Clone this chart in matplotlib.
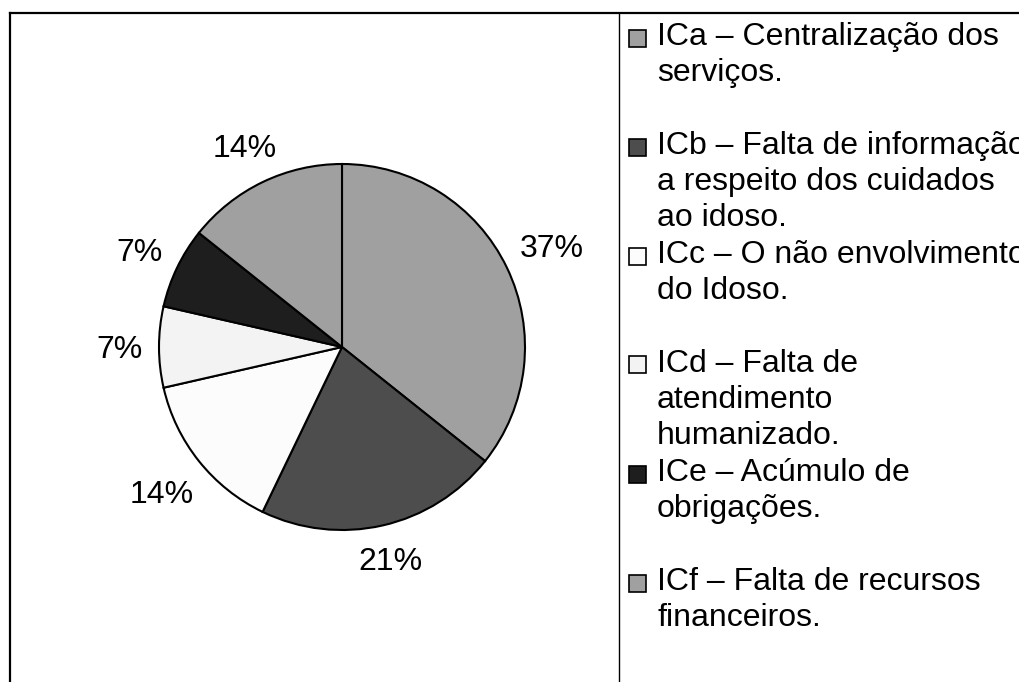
import matplotlib
matplotlib.use("Agg")
import matplotlib.pyplot as plt
from matplotlib.lines import Line2D
from matplotlib.patches import Rectangle
import numpy as np

plt.rcParams['font.family'] = ['Liberation Sans', 'DejaVu Sans']

# data (counts out of 14, labels as printed)
categories = ['ICa', 'ICb', 'ICc', 'ICd', 'ICe', 'ICf']
counts = [5, 3, 2, 1, 1, 2]
pct_labels = ['37%', '21%', '14%', '7%', '7%', '14%']
legend_lines = [
    ['ICa – Centralização dos', 'serviços.'],
    ['ICb – Falta de informação', 'a respeito dos cuidados', 'ao idoso.'],
    ['ICc – O não envolvimento', 'do Idoso.'],
    ['ICd – Falta de', 'atendimento', 'humanizado.'],
    ['ICe – Acúmulo de', 'obrigações.'],
    ['ICf – Falta de recursos', 'financeiros.'],
]
colors = ['#a0a0a0', '#4d4d4d', '#fcfcfc', '#f3f3f3', '#1e1e1e', '#a0a0a0']

W, H = 1019, 682
FS = 23
fig = plt.figure(figsize=(W / 100, H / 100), dpi=100)

# outer frame (cut off at right and bottom) and the legend separator
fig.add_artist(Line2D([10 / W, 1.01], [1 - 13 / H] * 2, color='black', lw=1.6,
                      transform=fig.transFigure))
fig.add_artist(Line2D([10 / W] * 2, [1 - 13 / H, -0.01], color='black', lw=1.6,
                      transform=fig.transFigure))
fig.add_artist(Line2D([619 / W] * 2, [1 - 13 / H, -0.01], color='black', lw=1.0,
                      transform=fig.transFigure))

# pie
cx, cy, R = 342, 347, 183
ax = fig.add_axes([(cx - 1.5 * R) / W, (H - cy - 1.5 * R) / H, 3 * R / W, 3 * R / H])
wedges, _ = ax.pie(counts, colors=colors, startangle=90, counterclock=False,
                   wedgeprops=dict(edgecolor='black', linewidth=1.5))
ax.set_xlim(-1.5, 1.5)
ax.set_ylim(-1.5, 1.5)
ax.axis('off')

# percentage labels, placed just outside the rim like the spreadsheet does
renderer = fig.canvas.get_renderer()
cap_half = 0.716 * FS * 100 / 72 / 2
gap = 16
for w, lab in zip(wedges, pct_labels):
    th = np.deg2rad((w.theta1 + w.theta2) / 2)
    ux, uy = np.cos(th), np.sin(th)
    t = ax.text(0, 0, lab, fontsize=FS, ha='center', va='baseline')
    hw = t.get_window_extent(renderer).width / 2
    d = (R + gap + hw * abs(ux) + cap_half * abs(uy)) / R
    t.set_position((d * ux, d * uy - cap_half / R))

# legend drawn by hand: one slot per entry, one text per line
slot, line_h, y_first = 109, 36, 45
for i, lines in enumerate(legend_lines):
    y0 = y_first + slot * i
    fig.add_artist(Rectangle((629 / W, 1 - (y0 + 1.5) / H), 17 / W, 17 / H,
                             transform=fig.transFigure, facecolor=colors[i],
                             edgecolor='black', lw=1.2))
    for j, line in enumerate(lines):
        fig.text(657 / W, 1 - (y0 + line_h * j) / H, line, fontsize=FS,
                 ha='left', va='baseline')

fig.savefig('out.png', dpi=100)
